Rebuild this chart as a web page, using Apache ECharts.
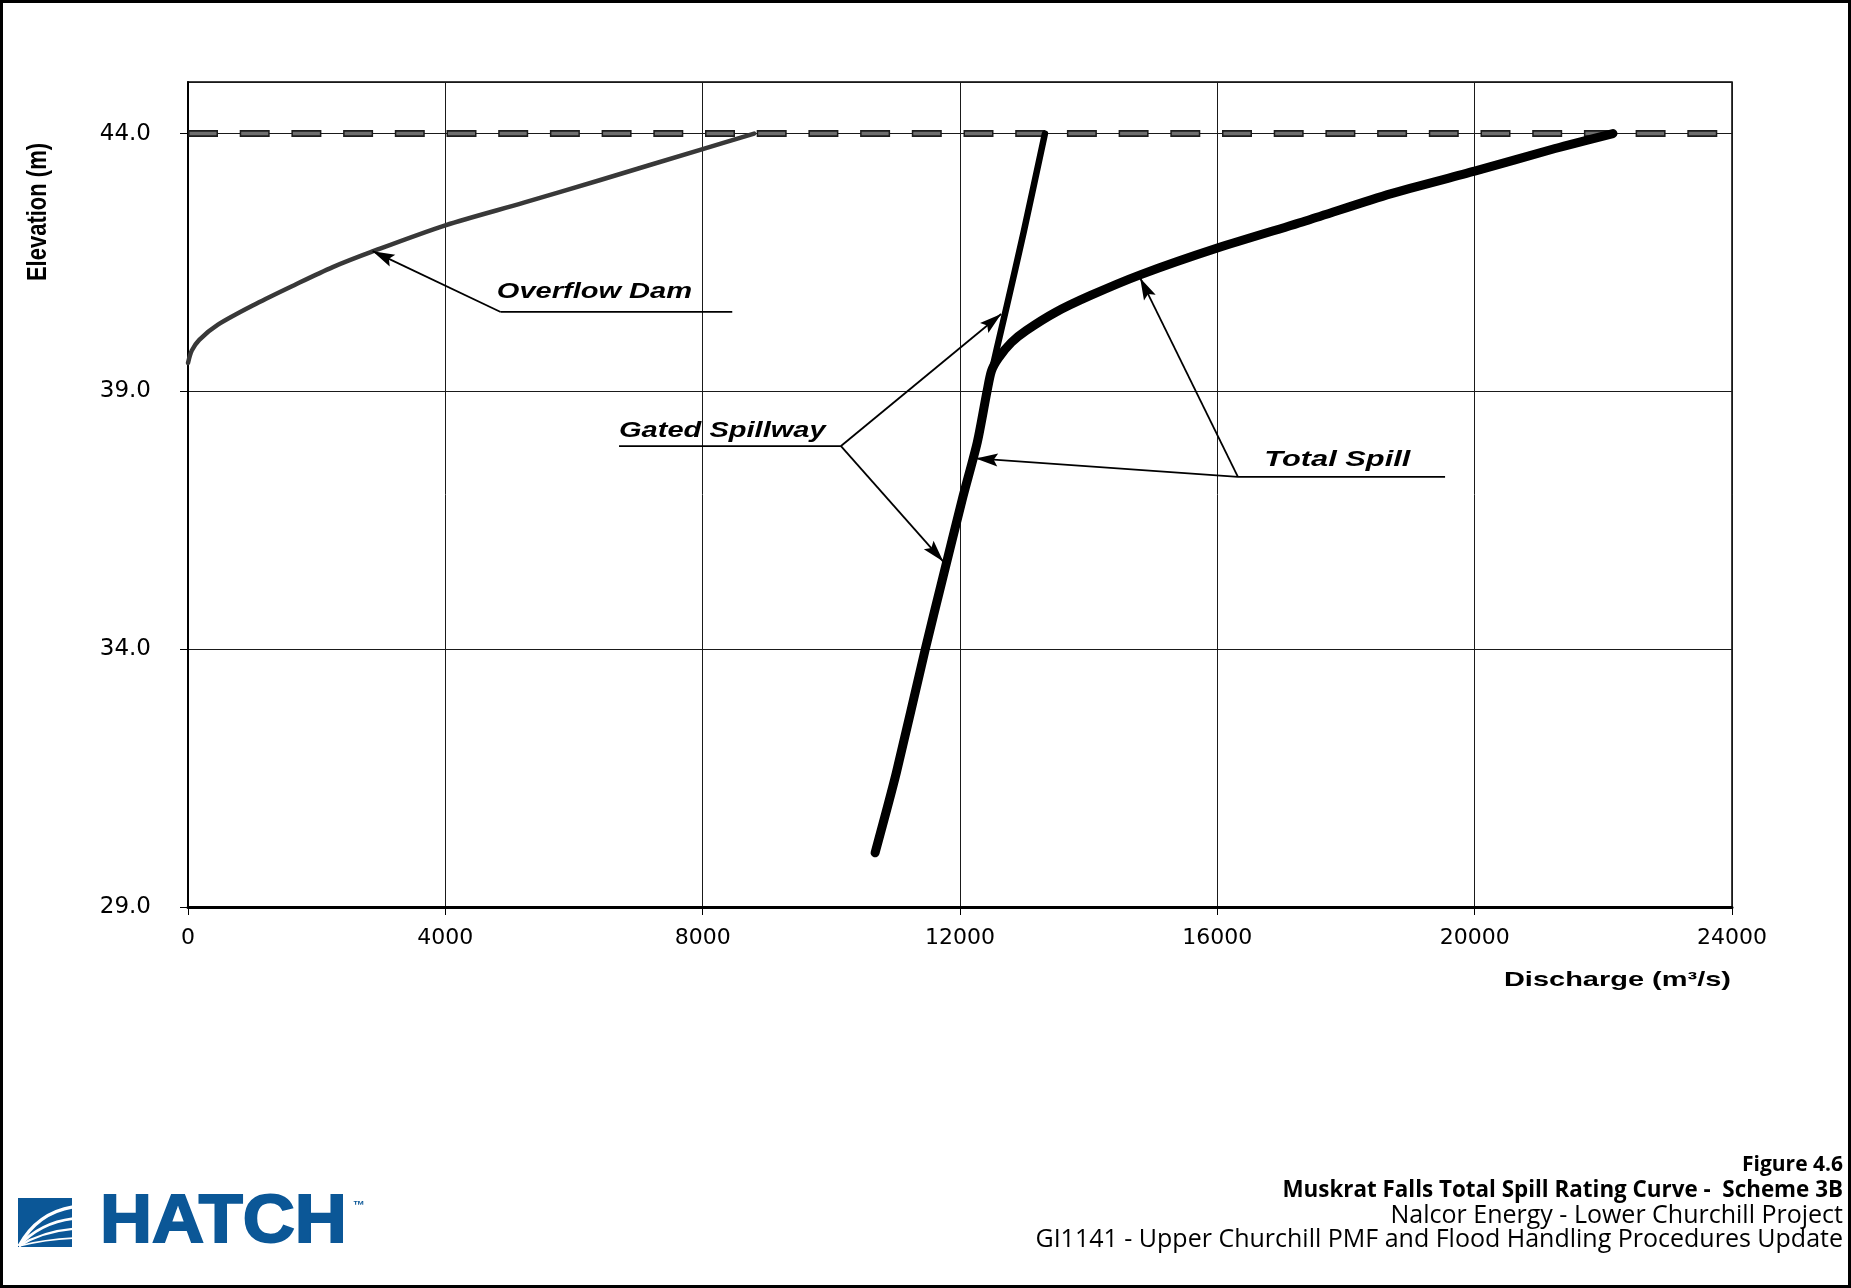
<!DOCTYPE html>
<html>
<head>
<meta charset="utf-8">
<title>Muskrat Falls Total Spill Rating Curve - Scheme 3B</title>
<script src="https://cdn.jsdelivr.net/npm/echarts@6/dist/echarts.min.js"></script>
<style>
  html, body { margin: 0; padding: 0; background: #fff; }
  #chart { width: 1851px; height: 1288px; }
</style>
</head>
<body>
<div id="chart"></div>
<script>
// Overflow dam rating: discharge (m3/s) vs reservoir elevation (m)
const overflowQ = [0, 58, 175, 460, 1060, 1650, 2250, 2840, 4000, 5220, 6410, 8000, 8800];
const overflowE = [39.55, 39.79, 40.0, 40.29, 40.70, 41.06, 41.41, 41.70, 42.22, 42.66, 43.10, 43.70, 44.0];

// Gated spillway rating
const gatedQ = [10680, 11010, 11460, 11720, 12040, 12270, 12420, 12730, 12990, 13320];
const gatedE = [30.05, 31.6, 34.0, 35.32, 36.93, 38.02, 39.0, 40.67, 42.09, 44.0];

// Total spill (gated spillway + overflow dam)
const totalQ = [10680, 11010, 11460, 11720, 12040, 12270, 12420, 12490, 12600, 12800, 13030, 13480, 14030, 14800, 16000, 17410, 18690, 20000, 21250, 22150];
const totalE = [30.05, 31.6, 34.0, 35.32, 36.93, 38.02, 39.0, 39.4, 39.65, 39.95, 40.18, 40.53, 40.86, 41.26, 41.78, 42.32, 42.83, 43.27, 43.71, 44.0];

// Maximum water level line
const designLevel = 44.0;

// Axis ranges and tick step
const xRange = [0, 24000];
const xStep = 4000;
const yRange = [29, 45];
const yStep = 5;

// Callout text and anchor (left edge, text middle) in data units
const calloutText = ['Overflow Dam', 'Gated Spillway', 'Total Spill'];
const calloutQ = [4800, 6700, 16730];
const calloutE = [40.93, 38.23, 37.68];

// Leader lines: [fromQ, fromE, toQ, toE, arrowhead at end]
const leaderLines = [
  [4860, 40.54, 8460, 40.54, 0],
  [4860, 40.54, 2870, 41.72, 1],
  [6700, 37.94, 10150, 37.94, 0],
  [10150, 37.94, 12640, 40.50, 1],
  [10150, 37.94, 11740, 35.70, 1],
  [16320, 37.34, 19540, 37.34, 0],
  [16320, 37.34, 12245, 37.70, 1],
  [16320, 37.34, 14800, 41.20, 1]
];

// Caption block
const captionLines = [
  'Figure 4.6',
  'Muskrat Falls Total Spill Rating Curve -  Scheme 3B',
  'Nalcor Energy - Lower Churchill Project',
  'GI1141 - Upper Churchill PMF and Flood Handling Procedures Update'
];

const zip = (a, b) => a.map((v, i) => [v, b[i]]);

const chart = echarts.init(document.getElementById('chart'), null, { renderer: 'canvas' });

function renderLeader(params, api) {
  const a = api.coord([api.value(0), api.value(1)]);
  const b = api.coord([api.value(2), api.value(3)]);
  const children = [{
    type: 'line',
    shape: { x1: a[0], y1: a[1], x2: b[0], y2: b[1] },
    style: { stroke: '#000', lineWidth: 1.8 }
  }];
  if (api.value(4)) {
    const dx = b[0] - a[0], dy = b[1] - a[1];
    const len = Math.hypot(dx, dy);
    const ux = dx / len, uy = dy / len;
    const L = 22, W = 6.5, N = 4;
    const bx = b[0] - ux * L, by = b[1] - uy * L;
    children.push({
      type: 'polygon',
      shape: { points: [
        [b[0], b[1]],
        [bx - uy * W, by + ux * W],
        [bx + ux * N, by + uy * N],
        [bx + uy * W, by - ux * W]
      ] },
      style: { fill: '#000' }
    });
  }
  return { type: 'group', children };
}

function renderCallout(params, api) {
  const p = api.coord([api.value(0), api.value(1)]);
  return {
    type: 'text',
    x: p[0], y: p[1],
    scaleX: params.dataIndex === 2 ? 1.4 : 1.32,
    style: {
      text: calloutText[params.dataIndex],
      fill: '#000',
      font: 'italic bold 22px "Liberation Sans"',
      textAlign: 'left',
      textVerticalAlign: 'middle'
    }
  };
}

// Stylised company mark (blue square with white fan lines)
function logoGraphic() {
  const blue = '#0b5797';
  const x0 = 18, y0 = 1198, w = 54, h = 49;
  const fan = [];
  const ends = [0.18, 0.42, 0.63, 0.82];
  ends.forEach((t, i) => {
    fan.push({
      type: 'bezierCurve',
      shape: {
        x1: x0 + 1, y1: y0 + h - 1,
        cpx1: x0 + w * (0.35 + i * 0.05), cpy1: y0 + h * (t + (1 - t) * 0.15),
        x2: x0 + w + 1, y2: y0 + h * t
      },
      style: { stroke: '#fff', lineWidth: 3.2 - i * 0.5, fill: null }
    });
  });
  return {
    type: 'group',
    children: [
      { type: 'rect', shape: { x: x0, y: y0, width: w, height: h }, style: { fill: blue } },
      ...fan,
      {
        type: 'text', x: 100, y: y0 + h / 2 + 1, scaleX: 1.06,
        style: { text: 'HATCH', font: 'bold 68px "Liberation Sans"', fill: blue,
                 stroke: blue, lineWidth: 2, textAlign: 'left', textVerticalAlign: 'middle' }
      },
      {
        type: 'text', x: 353, y: y0 + 2,
        style: { text: '\u2122', font: 'bold 12px "Liberation Sans"', fill: blue,
                 textAlign: 'left', textVerticalAlign: 'top' }
      }
    ]
  };
}

const captionY = [1165, 1191, 1216, 1240];
const captionFont = [
  'bold 21px "Open Sans"',
  'bold 22.4px "Open Sans"',
  '25px "Open Sans"',
  '25px "Open Sans"'
];
const captionGraphics = captionLines.map((t, i) => ({
  type: 'text',
  x: 1843, y: captionY[i],
  style: {
    text: t,
    font: captionFont[i],
    fill: '#000',
    textAlign: 'right',
    textVerticalAlign: 'middle'
  }
}));

const option = {
  backgroundColor: '#fff',
  animation: false,
  grid: { left: 188, right: 119, top: 82, bottom: 381, show: true, borderColor: '#000', borderWidth: 1.5 },
  xAxis: {
    type: 'value', min: xRange[0], max: xRange[1], interval: xStep,
    axisLine: { show: true, onZero: false, lineStyle: { color: '#000', width: 3 } },
    axisTick: { show: true, inside: false, length: 8, lineStyle: { color: '#000', width: 1 } },
    axisLabel: { margin: 20, formatter: v => String(v), fontFamily: 'DejaVu Sans', fontSize: 22, color: '#000' },
    splitLine: { show: true, lineStyle: { color: '#1a1a1a', width: 1 } }
  },
  yAxis: {
    type: 'value', min: yRange[0], max: yRange[1], interval: yStep,
    axisLine: { show: true, onZero: false, lineStyle: { color: '#000', width: 2 } },
    axisTick: { show: true, inside: false, length: 8, lineStyle: { color: '#000', width: 1 } },
    axisLabel: {
      margin: 37, showMaxLabel: false,
      formatter: v => (v === yRange[1] ? '' : v.toFixed(1)),
      fontFamily: 'DejaVu Sans', fontSize: 23, color: '#000'
    },
    splitLine: { show: true, lineStyle: { color: '#1a1a1a', width: 1 } }
  },
  graphic: [
    { type: 'rect', shape: { x: 1.5, y: 1.5, width: 1848, height: 1285 },
      style: { fill: null, stroke: '#000', lineWidth: 3 }, silent: true },
    {
      type: 'text', x: 38, y: 212, rotation: Math.PI / 2, scaleY: 1.28,
      style: { text: 'Elevation (m)', font: 'bold 22px "Liberation Sans"', fill: '#000',
               textAlign: 'center', textVerticalAlign: 'middle' }
    },
    {
      type: 'text', x: 1731, y: 980, scaleX: 1.38,
      style: { text: 'Discharge (m\u00b3/s)', font: 'bold 21px "Liberation Sans"', fill: '#000',
               textAlign: 'right', textVerticalAlign: 'middle' }
    },
    logoGraphic(),
    ...captionGraphics
  ],
  series: [
    {
      name: 'Maximum level outline', type: 'line', data: [[xRange[0], designLevel], [xRange[1], designLevel]],
      symbol: 'none', silent: true, z: 3,
      lineStyle: { color: '#1c1c1c', width: 7, type: [30, 21.7], dashOffset: 0, cap: 'butt' }
    },
    {
      name: 'Maximum level', type: 'line', data: [[xRange[0], designLevel], [xRange[1], designLevel]],
      symbol: 'none', silent: true, z: 4,
      lineStyle: { color: '#6e6e6e', width: 3.5, type: [27, 24.7], dashOffset: -1.5, cap: 'butt' }
    },
    {
      name: 'Overflow Dam', type: 'line', data: zip(overflowQ, overflowE),
      symbol: 'none', smooth: 0.3, z: 5,
      lineStyle: { color: '#383838', width: 4.5, cap: 'round', join: 'round' }
    },
    {
      name: 'Gated Spillway', type: 'line', data: zip(gatedQ, gatedE),
      symbol: 'none', smooth: 0.2, z: 5,
      lineStyle: { color: '#000', width: 6.5, cap: 'round', join: 'round' }
    },
    {
      name: 'Total Spill', type: 'line', data: zip(totalQ, totalE),
      symbol: 'none', smooth: 0.25, z: 6,
      lineStyle: { color: '#000', width: 9, cap: 'round', join: 'round' }
    },
    {
      name: 'Leaders', type: 'custom', renderItem: renderLeader, data: leaderLines,
      clip: false, silent: true, z: 7
    },
    {
      name: 'Callouts', type: 'custom', renderItem: renderCallout, data: zip(calloutQ, calloutE),
      clip: false, silent: true, z: 7
    }
  ]
};

chart.setOption(option);
</script>
</body>
</html>
